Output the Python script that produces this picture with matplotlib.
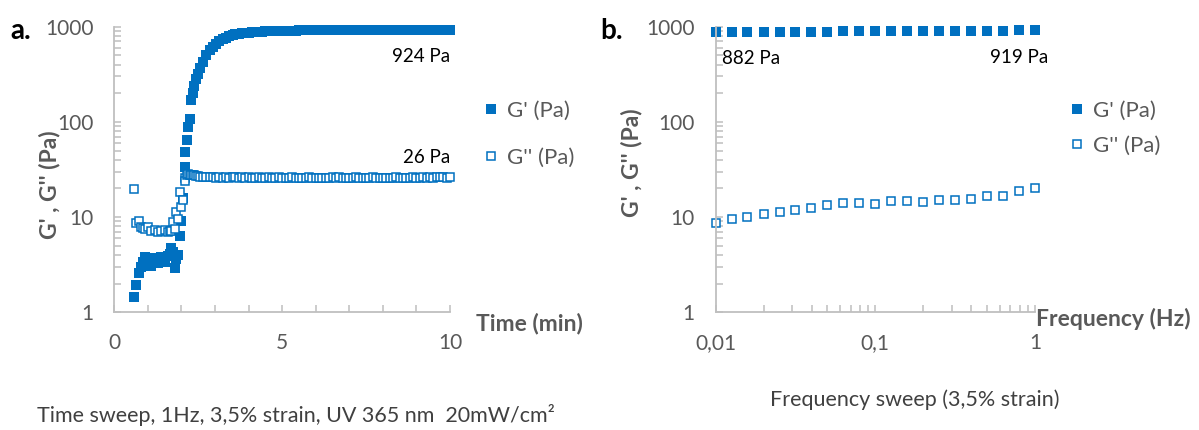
import matplotlib.pyplot as plt
from matplotlib.ticker import MultipleLocator, LogLocator, FixedLocator, NullFormatter

plt.rcParams['font.family'] = ['Lato', 'DejaVu Sans']

# --- a. time sweep ---
time_min = [0.6, 0.65, 0.75, 0.8, 0.85, 0.9, 1.0, 1.1, 1.2, 1.3, 1.4, 1.5, 1.6, 1.65, 1.7, 1.75,
            1.8, 1.85, 1.9, 1.95, 2.0, 2.05, 2.1, 2.12, 2.17, 2.21, 2.25, 2.29, 2.33, 2.37, 2.43,
            2.49, 2.56, 2.64, 2.74, 2.84, 2.94, 3.04, 3.13, 3.23, 3.33, 3.43, 3.53,
            3.6, 3.7, 3.8, 3.9, 4.0, 4.1, 4.2, 4.3, 4.4, 4.5, 4.6, 4.7, 4.8, 4.9,
            5.0, 5.1, 5.2, 5.3, 5.4, 5.5, 5.6, 5.7, 5.8, 5.9,
            6.0, 6.1, 6.2, 6.3, 6.4, 6.5, 6.6, 6.7, 6.8, 6.9,
            7.0, 7.1, 7.2, 7.3, 7.4, 7.5, 7.6, 7.7, 7.8, 7.9,
            8.0, 8.1, 8.2, 8.3, 8.4, 8.5, 8.6, 8.7, 8.8, 8.9,
            9.0, 9.1, 9.2, 9.3, 9.4, 9.5, 9.6, 9.7, 9.8, 9.9, 10.0]
g1_time = [1.45, 1.95, 2.6, 3.0, 3.4, 3.8, 3.5, 3.1, 3.7, 3.3, 3.8, 3.4, 3.9, 4.1, 4.7, 4.3,
           2.9, 3.6, 4.0, 6.3, 9.2, 16, 34, 48, 64, 88, 108, 168, 200, 240, 280,
           320, 370, 430, 500, 570, 615, 660, 700, 735, 765, 795, 820,
           835, 845, 855, 862, 869, 875, 880, 885, 889, 893, 896, 899, 902, 904,
           906, 908, 910, 911, 912, 913, 914, 915, 916, 917,
           917, 918, 918, 919, 919, 919, 920, 920, 920, 921,
           921, 921, 921, 922, 922, 922, 922, 922, 922, 922,
           923, 923, 923, 923, 923, 923, 923, 923, 923, 923,
           924, 924, 924, 924, 924, 924, 924, 924, 924, 924, 924]
g2_time = [19.6, 8.7, 9.0, 7.8, 7.6, 7.5, 7.8, 7.2, 7.4, 7.0, 7.1, 7.3, 7.0, 7.2, 7.1, 8.9,
           7.5, 11.3, 9.5, 18.3, 12.7, 15, 26, 24, 28, 28.5, 28, 27.5, 27.8, 27.4, 27.2,
           26.8, 26.5, 26.3, 26.4, 26.1, 26.3, 26.0, 26.2, 25.9, 26.1, 26.0, 26.2,
           26.2, 26.0, 26.3, 25.9, 26.1, 26.0, 25.8, 26.2, 26.0, 25.9, 26.1, 25.8, 26.0, 26.2,
           25.9, 25.7, 26.0, 26.1, 25.8, 26.0, 25.9, 25.8, 26.1, 26.0,
           25.7, 25.6, 25.9, 26.0, 25.8, 26.1, 25.9, 26.2, 26.0, 25.8,
           26.0, 25.9, 26.1, 25.8, 25.9, 26.0, 25.8, 26.1, 25.9, 25.8,
           26.0, 25.9, 26.0, 25.8, 26.1, 25.9, 26.0, 25.8, 26.0, 26.1,
           25.9, 26.0, 26.2, 25.9, 26.1, 26.0, 26.3, 26.1, 26.2, 26.0, 26.2]

# --- b. frequency sweep ---
freq_hz = [0.01, 0.0126, 0.0158, 0.02, 0.0251, 0.0316, 0.0398, 0.0501, 0.0631, 0.0794,
           0.1, 0.126, 0.158, 0.2, 0.251, 0.316, 0.398, 0.501, 0.631, 0.794, 1.0]
g1_freq = [882, 880, 878, 879, 880, 879, 881, 890, 892, 893,
           895, 896, 897, 899, 900, 903, 906, 909, 912, 916, 919]
g2_freq = [8.7, 9.5, 10.0, 10.7, 11.3, 11.9, 12.5, 13.3, 13.9, 14.1,
           13.7, 14.7, 14.7, 14.4, 15.0, 15.0, 15.5, 16.5, 16.8, 18.6, 20.2]

W, H = 1199, 430
BLUE = '#0070C0'
AXIS = '#BFBFBF'
TICK = '#595959'


def fx(x):
    return x / W


def fy(y):
    return 1 - y / H


fig = plt.figure(figsize=(W / 100, H / 100), dpi=100)
ax1 = fig.add_axes([fx(114.3), fy(312.3), 335.7 / W, 285.6 / H])
ax2 = fig.add_axes([fx(715.7), fy(312.3), 319.3 / W, 285.6 / H])

for ax, x, g1, g2 in [(ax1, time_min, g1_time, g2_time), (ax2, freq_hz, g1_freq, g2_freq)]:
    ax.plot(x, g1, 's', color=BLUE, ms=6.8, mew=0, label="G' (Pa)", clip_on=False)
    ax.plot(x, g2, 's', mfc='white', mec=BLUE, ms=6.0, mew=1.1, label="G'' (Pa)", clip_on=False)
    ax.set_yscale('log')
    ax.set_ylim(1, 1000)
    ax.yaxis.set_major_locator(FixedLocator([1, 10, 100, 1000]))
    ax.yaxis.set_minor_locator(LogLocator(base=10, subs=range(2, 10)))
    ax.yaxis.set_minor_formatter(NullFormatter())
    ax.set_yticklabels(['1', '10', '100', '1000'])
    for s in ['top', 'right']:
        ax.spines[s].set_visible(False)
    for s in ['left', 'bottom']:
        ax.spines[s].set_color(AXIS)
        ax.spines[s].set_linewidth(1.3)
    ax.tick_params(which='both', direction='in', length=5, width=1.1, color=AXIS,
                   labelsize=15, labelcolor=TICK, pad=15)

ax1.set_xlim(0, 10)
ax1.xaxis.set_major_locator(FixedLocator([0, 5, 10]))
ax1.xaxis.set_minor_locator(MultipleLocator(1))

ax2.set_xscale('log')
ax2.set_xlim(0.01, 1)
ax2.xaxis.set_major_locator(FixedLocator([0.01, 0.1, 1]))
ax2.xaxis.set_minor_locator(LogLocator(base=10, subs=range(2, 10)))
ax2.xaxis.set_minor_formatter(NullFormatter())
ax2.set_xticklabels(['0,01', '0,1', '1'])

ax1.legend(loc='upper left', bbox_to_anchor=(fx(474), fy(90)), bbox_transform=fig.transFigure,
           frameon=False, fontsize=16, handlelength=0.5, handletextpad=0.5, labelspacing=1.2,
           labelcolor=TICK, borderpad=0)
ax2.legend(loc='upper left', bbox_to_anchor=(fx(1060), fy(90)), bbox_transform=fig.transFigure,
           frameon=False, fontsize=16, handlelength=0.5, handletextpad=0.5, labelspacing=0.65,
           labelcolor=TICK, borderpad=0)

# panel letters
fig.text(fx(10), fy(31), 'a.', fontsize=20, fontweight='bold', va='center', ha='left')
fig.text(fx(600), fy(31), 'b.', fontsize=20, fontweight='bold', va='center', ha='left')

# axis titles
fig.text(fx(49), fy(185), "G' , G'' (Pa)", rotation=90, fontsize=16.5, fontweight='bold',
         color=TICK, ha='center', va='center')
fig.text(fx(632), fy(163), "G' , G'' (Pa)", rotation=90, fontsize=16.5, fontweight='bold',
         color=TICK, ha='center', va='center')
fig.text(fx(476), fy(323), 'Time (min)', fontsize=16.5, fontweight='bold', color=TICK,
         ha='left', va='center')
fig.text(fx(1036), fy(319), 'Frequency (Hz)', fontsize=16.5, fontweight='bold', color=TICK,
         ha='left', va='center')

# value annotations
ax1.annotate('924 Pa', xy=(10, g1_time[-1]), xytext=(0, -27), textcoords='offset pixels',
             ha='right', va='center', fontsize=13.5)
ax1.annotate('26 Pa', xy=(10, g2_time[-1]), xytext=(0, 20), textcoords='offset pixels',
             ha='right', va='center', fontsize=13.5)
ax2.annotate('882 Pa', xy=(freq_hz[0], g1_freq[0]), xytext=(6, -27), textcoords='offset pixels',
             ha='left', va='center', fontsize=13.5)
ax2.annotate('919 Pa', xy=(freq_hz[-1], g1_freq[-1]), xytext=(13, -27), textcoords='offset pixels',
             ha='right', va='center', fontsize=13.5)

# captions
fig.text(fx(37), fy(415), 'Time sweep, 1Hz, 3,5% strain, UV 365 nm  20mW/cm²', fontsize=15.5,
         color='#404040', ha='left', va='center')
fig.text(fx(770), fy(400), 'Frequency sweep (3,5% strain)', fontsize=15.5,
         color='#404040', ha='left', va='center')

fig.savefig('out.png', dpi=100)
